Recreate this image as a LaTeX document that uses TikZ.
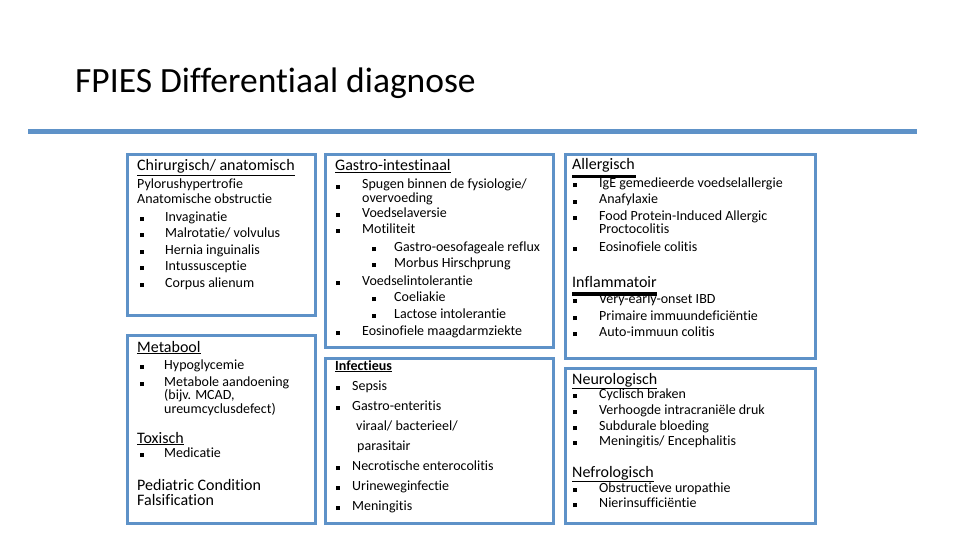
\documentclass[tikz,border=0pt]{standalone}
\usepackage{fontspec}
\setmainfont[Ligatures=NoCommon]{Carlito}
\definecolor{boxblue}{RGB}{94,146,200}
\newcommand\sq{\rule{3.6pt}{4pt}}
\tikzset{
  box/.style={draw=boxblue, line width=3pt},
  txt/.style={anchor=base west, inner sep=0pt, font=\fontsize{14}{16}\selectfont},
  hd/.style={anchor=base west, inner sep=0pt, font=\fontsize{16}{18}\selectfont},
  bar/.style={line width=3.5pt, black},
}
\newcommand\bitem[5]{\node[txt] (#1b) at (#2,#4) {\sq}; \node[txt] (#1) at (#3,#4) {#5};}
\begin{document}
\begin{tikzpicture}[x=1pt,y=-1pt]
\useasboundingbox (0,0) rectangle (960,540);
% title
\node[anchor=base west, inner sep=0pt, font=\fontsize{35.5}{40}\selectfont] (title) at (75,93) {FPIES Differentiaal diagnose};
\draw[draw=boxblue, line width=5pt] (28,132) -- (917,132);
% boxes
\draw[box] (127,155) rectangle (315,315);
\draw[box] (127,335) rectangle (315,523);
\draw[box] (325,155) rectangle (553,347);
\draw[box] (325,358) rectangle (553,523);
\draw[box] (565,155) rectangle (815,358);
\draw[box] (565,368) rectangle (815,523);
% left top
\node[hd] (chir) at (137,171) {\underline{Chirurgisch/ anatomisch}};
\node[txt] (pyl) at (137,188) {Pylorushypertrofie};
\node[txt] (anat) at (137,204) {Anatomische obstructie};
\bitem{inv}{140}{165}{221}{Invaginatie}
\bitem{mal}{140}{165}{237}{Malrotatie/ volvulus}
\bitem{her}{140}{165}{254}{Hernia inguinalis}
\bitem{int}{140}{165}{270}{Intussusceptie}
\bitem{cor}{140}{165}{287}{Corpus alienum}
% left bottom
\node[hd] (meta) at (137,352) {\underline{Metabool}};
\bitem{hypo}{140}{164}{369}{Hypoglycemie}
\bitem{metab}{140}{164}{386}{Metabole aandoening}
\node[txt] (bijv) at (164,399) {(bijv. MCAD,};
\node[txt] (ureum) at (164,413) {ureumcyclusdefect)};
\node[hd] (tox) at (137,443) {\underline{Toxisch}};
\bitem{med}{140}{164}{457}{Medicatie}
\node[hd] (ped) at (137,490) {Pediatric Condition};
\node[hd] (fals) at (137,505) {Falsification};
% middle top
\node[hd] (gastro) at (335,171) {\underline{Gastro-intestinaal}};
\bitem{spug}{336}{362}{189}{Spugen binnen de fysiologie/}
\node[txt] (overv) at (362,202) {overvoeding};
\bitem{aver}{336}{362}{217}{Voedselaversie}
\bitem{moti}{336}{362}{233}{Motiliteit}
\bitem{gerd}{372}{394}{251}{Gastro-oesofageale reflux}
\bitem{hirs}{372}{394}{267}{Morbus Hirschprung}
\bitem{intol}{336}{362}{285}{Voedselintolerantie}
\bitem{coel}{372}{394}{301}{Coeliakie}
\bitem{lact}{372}{394}{318}{Lactose intolerantie}
\bitem{eos}{336}{362}{335}{Eosinofiele maagdarmziekte}
% middle bottom
\node[txt] (inf) at (335,370) {\underline{\textbf{Infectieus}}};
\bitem{seps}{336}{352}{390}{Sepsis}
\bitem{gaen}{336}{352}{410}{Gastro-enteritis}
\node[txt] (vir) at (356,430) {viraal/ bacterieel/};
\node[txt] (para) at (357,450) {parasitair};
\bitem{nec}{336}{352}{470}{Necrotische enterocolitis}
\bitem{uwi}{336}{352}{490}{Urineweginfectie}
\bitem{meni}{336}{352}{510}{Meningitis}
% right top
\node[hd] (aller) at (572,170) {Allergisch};
\bitem{ige}{573}{599}{187}{IgE gemedieerde voedselallergie}
\draw[bar] (aller.base west) ++(0,6.5) coordinate (ab1) -- ++(64,0) coordinate (ab2);
\bitem{anaf}{573}{599}{204}{Anafylaxie}
\bitem{fpiap}{573}{599}{220}{Food Protein-Induced Allergic}
\node[txt] (proc) at (599,233) {Proctocolitis};
\bitem{eosc}{573}{599}{251}{Eosinofiele colitis}
\node[hd] (infl) at (572,287) {Inflammatoir};
\bitem{veo}{573}{599}{303}{Very-early-onset IBD}
\draw[bar] (infl.base west) ++(0,7) coordinate (ib1) -- ++(85,0) coordinate (ib2);
\bitem{pid}{573}{599}{320}{Primaire immuundeficiëntie}
\bitem{aic}{573}{599}{336}{Auto-immuun colitis}
% right bottom
\node[hd] (neuro) at (572,384) {\underline{Neurologisch}};
\bitem{cyc}{573}{599}{398}{Cyclisch braken}
\bitem{icp}{573}{599}{414}{Verhoogde intracraniële druk}
\bitem{sub}{573}{599}{430}{Subdurale bloeding}
\bitem{menc}{573}{599}{445}{Meningitis/ Encephalitis}
\node[hd] (nefro) at (572,477) {\underline{Nefrologisch}};
\bitem{obs}{573}{599}{492}{Obstructieve uropathie}
\bitem{nier}{573}{599}{507}{Nierinsufficiëntie}
\end{tikzpicture}
\end{document}
